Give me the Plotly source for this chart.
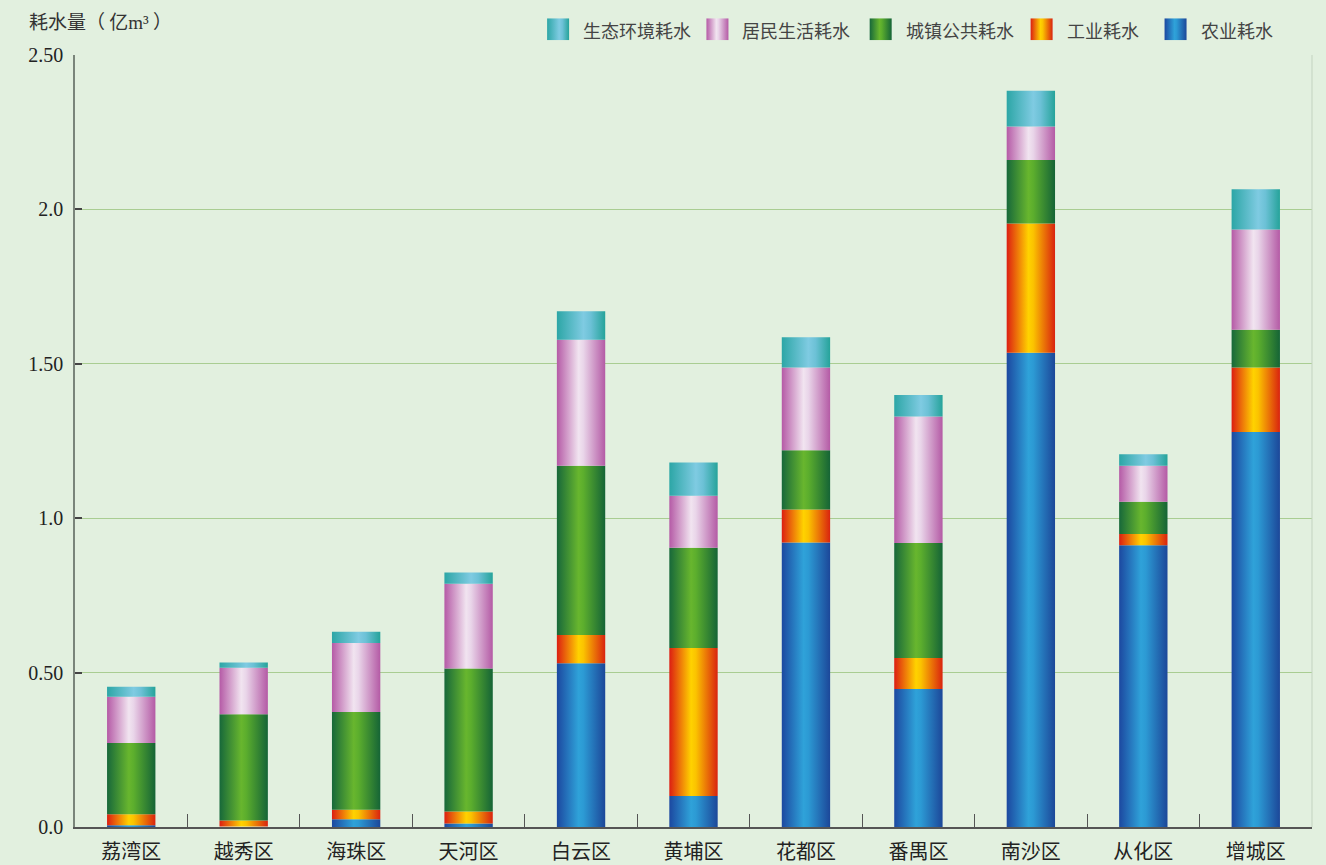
import plotly.graph_objects as go

# 广州各区耗水量（亿m³）
districts = ["荔湾区", "越秀区", "海珠区", "天河区", "白云区", "黄埔区",
             "花都区", "番禺区", "南沙区", "从化区", "增城区"]
agri = [0.006, 0.002, 0.025, 0.011, 0.530, 0.100, 0.921, 0.447, 1.536, 0.912, 1.279]
industry = [0.035, 0.019, 0.031, 0.039, 0.092, 0.480, 0.107, 0.100, 0.418, 0.037, 0.209]
public = [0.231, 0.344, 0.316, 0.463, 0.548, 0.324, 0.192, 0.373, 0.206, 0.104, 0.122]
resident = [0.150, 0.151, 0.224, 0.275, 0.408, 0.169, 0.268, 0.409, 0.108, 0.117, 0.325]
eco = [0.032, 0.017, 0.036, 0.036, 0.092, 0.107, 0.098, 0.070, 0.116, 0.037, 0.130]

y_tickvals = [0, 0.5, 1.0, 1.5, 2.0, 2.5]
y_ticktext = ["0.0", "0.50", "1.0", "1.50", "2.0", "2.50"]

# cylinder-like horizontal gradients for each series
GRAD = {
    "农业耗水": [[0, "#1c48a0"], [0.45, "#2fa2d9"], [0.55, "#2c9ad4"], [1, "#1c4799"]],
    "工业耗水": [[0, "#dc1e12"], [0.45, "#ffd200"], [0.55, "#fbc300"], [1, "#d9230f"]],
    "城镇公共耗水": [[0, "#17683a"], [0.45, "#68b62e"], [0.55, "#5cae2d"], [1, "#156436"]],
    "居民生活耗水": [[0, "#b55aa6"], [0.45, "#f1e4f0"], [0.55, "#e9d5e9"], [1, "#b45aa5"]],
    "生态环境耗水": [[0, "#2ca6a6"], [0.55, "#7fcbe2"], [0.7, "#6cc1d6"], [1, "#25a39a"]],
}

# stacking order, bottom to top
series = [("农业耗水", agri), ("工业耗水", industry), ("城镇公共耗水", public),
          ("居民生活耗水", resident), ("生态环境耗水", eco)]

# legend layout (pixel offsets from the plot's left edge)
legend_order = ["生态环境耗水", "居民生活耗水", "城镇公共耗水", "工业耗水", "农业耗水"]
legend_swatch_x = [472.3, 631.7, 795.0, 956.0, 1090.0]
legend_text_x = [505.7, 665.7, 829.0, 990.0, 1124.0]
swatch_w = 22

# page geometry
W, H = 1326, 865
M_L, M_R, M_T, M_B = 75, 13.5, 10, 37.5
plot_h = H - M_T - M_B
main_top_px = 55
main_dom_top = (H - M_B - main_top_px) / plot_h
leg_dom = [(H - M_B - 40.2) / plot_h, (H - M_B - 18.3) / plot_h]
plot_w = W - M_L - M_R

half_w = 0.215
fig = go.Figure()

bottoms = [0.0] * len(districts)
for name, vals in series:
    for i, v in enumerate(vals):
        b = bottoms[i]
        t = b + v
        fig.add_trace(go.Scatter(
            x=[i - half_w, i + half_w, i + half_w, i - half_w, i - half_w],
            y=[b, b, t, t, b],
            mode="lines", line=dict(width=0),
            fill="toself",
            fillgradient=dict(type="horizontal", colorscale=GRAD[name]),
            name=name, showlegend=False, hoverinfo="skip",
        ))
        bottoms[i] = t

# legend swatches drawn on a separate strip of axes
annotations = []
for name, sx, tx in zip(legend_order, legend_swatch_x, legend_text_x):
    fig.add_trace(go.Scatter(
        x=[sx, sx + swatch_w, sx + swatch_w, sx, sx],
        y=[0, 0, 1, 1, 0],
        xaxis="x2", yaxis="y2",
        mode="lines", line=dict(width=0),
        fill="toself",
        fillgradient=dict(type="horizontal", colorscale=GRAD[name]),
        showlegend=False, hoverinfo="skip",
    ))
    annotations.append(dict(
        text=name, xref="x2", yref="y2", x=tx, y=0.45,
        xanchor="left", yanchor="middle", showarrow=False,
        font=dict(family="Noto Sans CJK SC", size=18, color="#444"),
    ))

annotations.append(dict(
    text='耗水量（ 亿<span style="font-family:Liberation Serif">m³</span> ）',
    xref="paper", yref="paper",
    x=(27 - M_L) / plot_w, y=(H - M_B - 21) / plot_h,
    xanchor="left", yanchor="middle", showarrow=False,
    font=dict(family="Noto Sans CJK SC", size=19, color="#333"),
))

bg = "#e2f0df"
fig.update_layout(
    width=W, height=H,
    margin=dict(l=M_L, r=M_R, t=M_T, b=M_B, autoexpand=False),
    paper_bgcolor=bg, plot_bgcolor=bg,
    showlegend=False,
    xaxis=dict(
        range=[-0.5, 10.5], domain=[0, 1],
        tickmode="array", tickvals=list(range(len(districts))), ticktext=districts,
        ticks="", showgrid=False, zeroline=False,
        showline=True, linecolor="#555", linewidth=1.5,
        tickfont=dict(family="Noto Sans CJK SC", size=20, color="#222"),
        ticklabelstandoff=6,
        minor=dict(tickmode="array",
                   tickvals=[k + 0.5 for k in range(len(districts) - 1)],
                   ticks="inside", ticklen=13, tickcolor="#555", tickwidth=1,
                   showgrid=False),
    ),
    yaxis=dict(
        range=[0, 2.5], domain=[0, main_dom_top],
        tickmode="array", tickvals=y_tickvals, ticktext=y_ticktext,
        ticks="inside", ticklen=7, tickcolor="#444", tickwidth=1.5,
        showgrid=True, gridcolor="#a9cd92", gridwidth=1.2,
        zeroline=False, showline=True, linecolor="#7a857a", linewidth=1.5,
        tickfont=dict(family="Liberation Serif", size=20, color="#222"),
        ticklabelstandoff=6,
    ),
    xaxis2=dict(range=[0, plot_w], domain=[0, 1], anchor="y2", visible=False,
                fixedrange=True),
    yaxis2=dict(range=[0, 1], domain=leg_dom, anchor="x2", visible=False,
                fixedrange=True),
    shapes=[dict(type="line", xref="x domain", yref="y domain", x0=1, x1=1, y0=0, y1=1,
                 line=dict(color="#c3d3c0", width=1))],
    annotations=annotations,
)

fig.write_html("out.html")
